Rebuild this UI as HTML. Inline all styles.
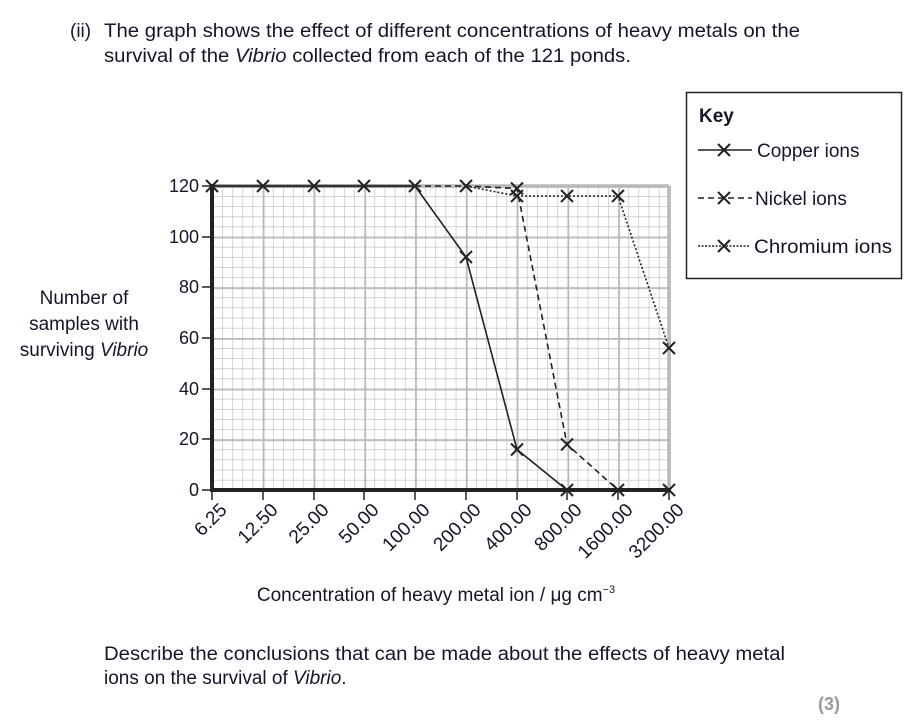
<!DOCTYPE html>
<html><head><meta charset="utf-8"><style>
html,body{margin:0;padding:0;background:#fff;}
svg{display:block;font-family:"Liberation Sans",sans-serif;}
text{fill:#16162a;}
</style></head><body>
<svg width="912" height="728" viewBox="0 0 912 728" xmlns="http://www.w3.org/2000/svg">
<defs>
<pattern id="minor" patternUnits="userSpaceOnUse" x="212" y="186" width="10.156" height="10.133">
<path d="M0 0V10.133M0 0H10.156" stroke="#b9b9bd" stroke-width="1.2" fill="none"/>
</pattern>
<pattern id="major" patternUnits="userSpaceOnUse" x="212" y="186" width="50.78" height="50.667">
<path d="M0 0V50.667M0 0H50.78" stroke="#b9b9bd" stroke-width="3.5" fill="none"/>
</pattern>
<g id="x"><path d="M-6 -6L6 6M-6 6L6 -6" stroke="#222" stroke-width="2" fill="none"/></g>
</defs>

<text x="70" y="37" font-size="19">(ii)</text>
<text x="104" y="37" font-size="19" textLength="696" lengthAdjust="spacingAndGlyphs">The graph shows the effect of different concentrations of heavy metals on the</text>
<text x="104" y="62" font-size="19" textLength="527" lengthAdjust="spacingAndGlyphs">survival of the <tspan font-style="italic">Vibrio</tspan> collected from each of the 121 ponds.</text>

<rect x="212" y="186" width="457" height="304" fill="url(#minor)"/>
<rect x="212" y="186" width="459" height="306" fill="url(#major)"/>
<line x1="212" y1="186" x2="669" y2="186" stroke="#b9b9bd" stroke-width="3.5"/>
<line x1="669" y1="186" x2="669" y2="490" stroke="#b9b9bd" stroke-width="3.5"/>

<line x1="212" y1="184" x2="212" y2="492" stroke="#222" stroke-width="4"/>
<line x1="210" y1="490" x2="671" y2="490" stroke="#222" stroke-width="4"/>

<g stroke="#222" stroke-width="1.5">
<line x1="202" y1="186" x2="212" y2="186"/><line x1="202" y1="237" x2="212" y2="237"/>
<line x1="202" y1="287" x2="212" y2="287"/><line x1="202" y1="338" x2="212" y2="338"/>
<line x1="202" y1="389" x2="212" y2="389"/><line x1="202" y1="439" x2="212" y2="439"/>
<line x1="202" y1="490" x2="212" y2="490"/>
<line x1="212" y1="490" x2="212" y2="500"/><line x1="263" y1="490" x2="263" y2="500"/>
<line x1="314" y1="490" x2="314" y2="500"/><line x1="364" y1="490" x2="364" y2="500"/>
<line x1="415" y1="490" x2="415" y2="500"/><line x1="466" y1="490" x2="466" y2="500"/>
<line x1="517" y1="490" x2="517" y2="500"/><line x1="567" y1="490" x2="567" y2="500"/>
<line x1="618" y1="490" x2="618" y2="500"/><line x1="669" y1="490" x2="669" y2="500"/>
</g>

<g font-size="18" text-anchor="end">
<text x="199" y="192">120</text><text x="199" y="243">100</text>
<text x="199" y="293">80</text><text x="199" y="344">60</text>
<text x="199" y="395">40</text><text x="199" y="445">20</text>
<text x="199" y="496">0</text>
</g>

<g font-size="19" text-anchor="end">
<text transform="translate(228,511) rotate(-45)">6.25</text>
<text transform="translate(279,511) rotate(-45)">12.50</text>
<text transform="translate(330,511) rotate(-45)">25.00</text>
<text transform="translate(380,511) rotate(-45)">50.00</text>
<text transform="translate(431,511) rotate(-45)">100.00</text>
<text transform="translate(482,511) rotate(-45)">200.00</text>
<text transform="translate(533,511) rotate(-45)">400.00</text>
<text transform="translate(583,511) rotate(-45)">800.00</text>
<text transform="translate(634,511) rotate(-45)">1600.00</text>
<text transform="translate(685,511) rotate(-45)">3200.00</text>
</g>

<g font-size="19" text-anchor="middle">
<text x="84" y="304">Number of</text>
<text x="84" y="330">samples with</text>
<text x="84" y="356">surviving <tspan font-style="italic">Vibrio</tspan></text>
</g>
<text x="436" y="601" font-size="19" text-anchor="middle">Concentration of heavy metal ion / μg cm<tspan font-size="11" dy="-8">−3</tspan></text>

<polyline points="415,186 466,257 517,449.5 567,490" fill="none" stroke="#222" stroke-width="1.6"/>
<polyline points="415,186 466,186 517,188.5 567,444.4 618,490" fill="none" stroke="#222" stroke-width="1.6" stroke-dasharray="6,4"/>
<polyline points="466,186 517,196 567,196 618,196 669,348" fill="none" stroke="#222" stroke-width="1.6" stroke-dasharray="2,2"/>
<line x1="212" y1="186" x2="415" y2="186" stroke="#333" stroke-width="2.5"/>

<use href="#x" x="212" y="186"/><use href="#x" x="263" y="186"/><use href="#x" x="314" y="186"/>
<use href="#x" x="364" y="186"/><use href="#x" x="415" y="186"/><use href="#x" x="466" y="186"/>
<use href="#x" x="466" y="257"/><use href="#x" x="517" y="449.5"/><use href="#x" x="567" y="490"/>
<use href="#x" x="517" y="188.5"/><use href="#x" x="567" y="444.4"/><use href="#x" x="618" y="490"/>
<use href="#x" x="517" y="196"/><use href="#x" x="567" y="196"/><use href="#x" x="618" y="196"/>
<use href="#x" x="669" y="348"/><use href="#x" x="669" y="490"/>

<rect x="686.5" y="92.5" width="215" height="186" fill="#fff" stroke="#222" stroke-width="1.5"/>
<text x="699" y="122" font-size="19" font-weight="bold">Key</text>
<line x1="698" y1="150" x2="752" y2="150" stroke="#222" stroke-width="1.5"/>
<use href="#x" x="724" y="150"/>
<text x="757" y="157" font-size="19">Copper ions</text>
<line x1="698" y1="198" x2="752" y2="198" stroke="#222" stroke-width="1.5" stroke-dasharray="6,4"/>
<use href="#x" x="724" y="198"/>
<text x="755" y="205" font-size="19">Nickel ions</text>
<line x1="698" y1="246" x2="750" y2="246" stroke="#222" stroke-width="1.5" stroke-dasharray="2,1.5"/>
<use href="#x" x="724" y="246"/>
<text x="754" y="253" font-size="19" textLength="138" lengthAdjust="spacingAndGlyphs">Chromium ions</text>

<text x="104" y="660" font-size="19" textLength="681" lengthAdjust="spacingAndGlyphs">Describe the conclusions that can be made about the effects of heavy metal</text>
<text x="104" y="684" font-size="19">ions on the survival of <tspan font-style="italic">Vibrio</tspan>.</text>
<text x="818" y="710" font-size="18" font-weight="bold" style="fill:#9a9a9a">(3)</text>
</svg>
</body></html>
